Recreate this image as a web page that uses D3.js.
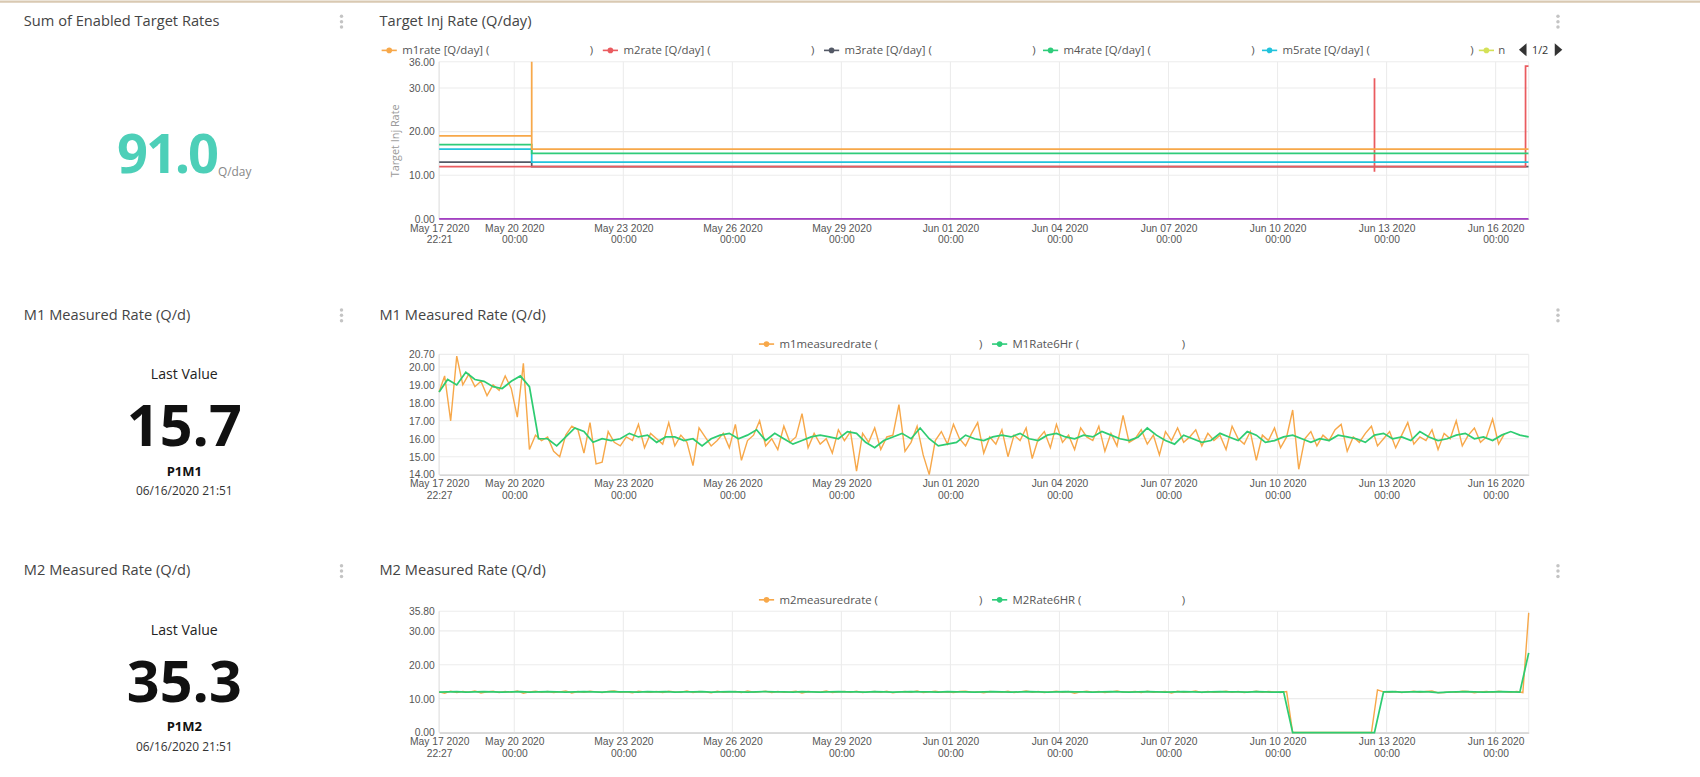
<!DOCTYPE html>
<html>
<head>
<meta charset="utf-8">
<script src="https://cdn.jsdelivr.net/npm/d3@7"></script>
<style>
  body { margin: 0; background: #fff; }
  svg { display: block; font-family: "Open Sans", "Noto Sans", sans-serif; }
  .tick text { fill: #555; font-size: 9.5px; }
</style>
</head>
<body>
<svg id="dash" width="1700" height="777" viewBox="0 0 1568 717" preserveAspectRatio="none"></svg>
<script>
const start = new Date(2020, 4, 17, 22, 21);
const end = new Date(2020, 5, 16, 21, 51);
const tickDates = ["2020-05-17T22:21", "2020-05-20T00:00", "2020-05-23T00:00", "2020-05-26T00:00",
  "2020-05-29T00:00", "2020-06-01T00:00", "2020-06-04T00:00", "2020-06-07T00:00",
  "2020-06-10T00:00", "2020-06-13T00:00", "2020-06-16T00:00"];

// Target rates, step series: [time, value]
const m1rate = [["2020-05-17T22:21", 19], ["2020-05-20T11:30", 36.5], ["2020-05-20T11:31", 16], ["2020-06-16T21:51", 16]];
const m2rate = [["2020-05-17T22:21", 12], ["2020-06-12T16:00", 11], ["2020-06-12T16:01", 32], ["2020-06-12T16:02", 12], ["2020-06-16T19:45", 12], ["2020-06-16T19:46", 35], ["2020-06-16T21:51", 35]];
const m3rate = [["2020-05-17T22:21", 13], ["2020-05-20T11:30", 12], ["2020-06-16T21:51", 12]];
const m4rate = [["2020-05-17T22:21", 17], ["2020-05-20T11:30", 15], ["2020-06-16T21:51", 15]];
const m5rate = [["2020-05-17T22:21", 16], ["2020-05-20T11:30", 13], ["2020-06-16T21:51", 13]];
const m6rate = [["2020-05-17T22:21", 0], ["2020-06-16T21:51", 0]];
const targetNames = ["m1rate [Q/day]", "m2rate [Q/day]", "m3rate [Q/day]", "m4rate [Q/day]", "m5rate [Q/day]", "m6rate [Q/day]"];
const targetColors = ["#f7a84a", "#ea5b5f", "#545966", "#2ecc7a", "#22c3dc", "#a43fc4"];
const targetTicks = [0, 10, 20, 30, 36];

// M1 measured rate, every 4h from May 17 22:00
const m1measured = [18.6, 19.5, 17.0, 20.6, 19.0, 19.6, 18.9, 19.2, 18.4, 19.0, 18.7, 19.5, 18.8, 17.2, 20.2,
  15.4, 16.2, 15.9, 16.1, 15.3, 15.0, 16.2, 16.7, 16.5, 15.2, 16.9, 14.6,
  14.7, 16.4, 15.8, 15.6, 16.1, 15.9, 16.8, 15.5, 16.3, 16.0, 15.7, 16.9,
  15.6, 16.2, 15.8, 14.5, 16.6, 16.1, 15.6, 15.9, 16.3, 15.5, 16.8, 14.8,
  15.9, 16.2, 17.0, 15.6, 16.0, 15.4, 16.7, 15.8, 16.1, 17.4, 15.5, 16.3,
  15.7, 16.0, 15.2, 16.5, 15.9, 16.4, 14.2, 16.3, 15.8, 16.6, 15.4, 16.1,
  16.2, 17.9, 15.3, 15.8, 16.7, 15.1, 14.0, 15.9, 16.4, 15.7, 16.8, 16.0,
  15.6, 16.3, 16.9, 15.2, 16.1, 15.7, 16.5, 15.0, 16.2, 15.9, 16.6, 14.9,
  16.0, 16.4, 15.5, 16.8, 15.8, 16.2, 15.4, 16.6, 16.1, 15.9, 16.7, 15.3,
  16.3, 15.6, 17.3, 15.8, 16.0, 16.5, 15.7, 16.2, 15.1, 16.4, 15.9, 16.6,
  15.8, 16.1, 16.5, 15.6, 16.3, 15.9, 16.2, 15.4, 16.7, 16.0, 15.7, 16.4,
  14.8, 16.2, 15.9, 16.6, 15.5, 16.1, 17.6, 14.3, 16.0, 16.4, 15.6, 16.2,
  15.9, 16.5, 16.8, 15.3, 16.1, 15.8, 16.3, 16.7, 15.6, 16.0, 16.4, 15.5,
  16.2, 16.9, 15.7, 16.1, 15.9, 16.5, 15.4, 16.3, 16.0, 17.0, 15.6, 16.2,
  16.6, 15.8, 16.1, 17.1, 15.7, 16.3];
const m1rate6hr = [18.6, 19.3, 19.0, 19.7, 19.3, 19.2, 18.9, 18.8, 19.2, 19.5, 18.9,
  16.0, 16.0, 15.6, 16.1, 16.6, 16.4, 15.8, 16.0, 15.9, 16.0, 16.3, 16.1, 16.2,
  15.8, 16.1, 16.1, 15.9, 16.0, 15.6, 16.0, 16.2, 16.3, 16.0, 16.2, 16.5,
  15.9, 16.3, 16.0, 15.7, 15.9, 16.1, 16.2, 16.1, 16.0, 16.4, 16.3, 15.8,
  15.5, 15.9, 16.1, 16.3, 16.0, 16.6, 16.0, 15.6, 15.7, 15.8, 16.2, 16.0,
  15.9, 16.1, 16.2, 16.1, 16.3, 16.0, 15.9, 16.2, 16.3, 16.1, 16.0, 16.2,
  16.1, 16.4, 16.2, 16.0, 15.9, 16.1, 16.6, 16.2, 15.9, 15.7, 16.2, 16.0,
  15.8, 15.9, 16.3, 16.1, 15.9, 16.4, 16.2, 15.8, 15.9, 16.1, 16.2, 16.0,
  15.8, 16.0, 15.9, 16.2, 16.1, 16.0, 15.8, 16.2, 16.3, 16.0, 16.1, 15.9,
  16.4, 16.1, 15.9, 16.0, 16.2, 16.3, 16.0, 16.1, 15.9, 16.2, 16.4, 16.2, 16.1];
const m1Ticks = [14, 15, 16, 17, 18, 19, 20, 20.7];

// M2 measured rate, every 4h from May 17 22:00
const m2measured = [12.0, 11.6, 12.2, 11.8, 12.1, 11.9, 12.3, 11.7, 12.0, 12.2, 11.8, 12.1,
  11.9, 12.3, 11.6, 12.0, 12.2, 11.9, 12.1, 11.8, 12.0, 12.3, 11.7, 12.1,
  11.9, 12.2, 12.0, 11.8, 12.1, 12.3, 11.9, 12.0, 11.7, 12.2, 12.0, 11.9,
  12.1, 11.8, 12.2, 12.0, 11.9, 12.3, 11.8, 12.1, 12.0, 11.7, 12.2, 11.9,
  12.0, 12.1, 11.8, 12.3, 11.9, 12.0, 12.2, 11.8, 12.1, 11.9, 12.0, 12.2,
  11.7, 12.1, 12.0, 11.9, 12.3, 11.8, 12.0, 12.1, 11.9, 12.2, 11.8, 12.0,
  12.1, 11.9, 12.2, 11.7, 12.0, 12.1, 11.9, 12.3, 11.8, 12.0, 12.2, 11.9,
  12.0, 11.8, 12.1, 12.2, 11.9, 12.0, 11.7, 12.1, 12.0, 11.9, 12.2, 11.8,
  12.0, 12.3, 11.9, 12.1, 11.8, 12.0, 12.2, 11.9, 12.1, 11.6, 12.0, 12.2,
  11.9, 12.1, 11.8, 12.0, 12.3, 11.9, 12.0, 12.1, 11.8, 12.2, 11.9, 12.0,
  12.1, 11.7, 12.2, 11.9, 12.0, 12.3, 11.8, 12.1, 11.9, 12.0, 12.2, 11.9,
  12.1, 11.8, 12.0, 12.2, 11.9, 12.1, 12.0, 11.8, 12.1,
  0, 0, 0, 0, 0, 0, 0, 0, 0, 0, 0, 0, 0, 0,
  12.6, 12.0, 11.9, 12.1, 11.8, 12.0, 12.2, 11.9, 12.1, 12.3, 11.7, 11.8,
  12.0, 11.9, 12.2, 12.1, 11.7, 12.0, 12.1, 11.9, 12.2, 12.0, 11.9, 12.1, 11.8,
  35.3];
const m2rate6hr = [11.9, 12.0, 12.1, 11.9, 12.0, 12.1, 12.0, 11.9, 12.0, 12.1, 11.9, 12.0,
  12.1, 12.0, 11.9, 12.0, 12.1, 12.0, 11.9, 12.1, 12.0, 12.0, 11.9, 12.1,
  12.0, 12.1, 11.9, 12.0, 12.0, 12.1, 11.9, 12.0, 12.1, 12.0, 11.9, 12.0,
  12.1, 12.0, 12.0, 11.9, 12.1, 12.0, 11.9, 12.0, 12.1, 12.0, 12.0, 11.9,
  12.1, 12.0, 11.9, 12.0, 12.1, 12.0, 12.0, 11.9, 12.1, 12.0, 12.0, 11.9,
  12.0, 12.1, 12.0, 11.9, 12.0, 12.1, 12.0, 11.9, 12.0, 12.1, 12.0, 12.0,
  11.9, 12.0, 12.1, 12.0, 11.9, 12.0, 12.1, 12.0, 11.9, 12.0, 12.1, 12.0,
  11.9, 12.0, 12.1, 12.0, 12.0, 11.9, 12.1, 12.0, 11.9, 12.0,
  0, 0, 0, 0, 0, 0, 0, 0, 0, 0,
  12.0, 12.1, 11.9, 12.0, 12.1, 12.0, 11.8, 11.9, 12.0, 12.1, 12.0, 11.9, 12.0, 12.1, 12.0, 11.9,
  23.5];
const m2Ticks = [0, 10, 20, 30, 35.8];

const svg = d3.select("#dash");
const L = 405, R = 1410;
const x = d3.scaleTime().domain([start, end]).range([L, R]);
const parse = s => new Date(s);

svg.append("line").attr("x1", 0).attr("x2", 1568).attr("y1", 1.5).attr("y2", 1.5)
  .attr("stroke", "#d9c9b2").attr("stroke-width", 2);

function dots(cx, cy) {
  [-5, 0, 5].forEach(d => svg.append("circle").attr("cx", cx).attr("cy", cy + d).attr("r", 1.6).attr("fill", "#c4c4c4"));
}
function title(tx, ty, t) {
  svg.append("text").attr("x", tx).attr("y", ty).attr("font-size", 13.5).attr("fill", "#444").text(t);
}

function chartFrame(top, bottom, ticks, fmt) {
  const y = d3.scaleLinear().domain([ticks[0], ticks[ticks.length - 1]]).range([bottom, top]);
  const g = svg.append("g");
  g.selectAll(".hg").data(ticks).join("line").attr("x1", L).attr("x2", R)
    .attr("y1", d => y(d)).attr("y2", d => y(d)).attr("stroke", "#ececec");
  g.selectAll(".vg").data(tickDates.slice(1)).join("line")
    .attr("x1", d => x(parse(d))).attr("x2", d => x(parse(d)))
    .attr("y1", top).attr("y2", bottom).attr("stroke", "#ececec");
  g.append("line").attr("x1", L).attr("x2", L).attr("y1", top).attr("y2", bottom).attr("stroke", "#ddd");
  g.append("line").attr("x1", R).attr("x2", R).attr("y1", top).attr("y2", bottom).attr("stroke", "#eee");
  const ya = g.append("g").attr("transform", `translate(${L},0)`)
    .call(d3.axisLeft(y).tickValues(ticks).tickFormat(d3.format(".2f")).tickSize(0).tickPadding(4));
  ya.select(".domain").remove();
  const xa = g.append("g").attr("transform", `translate(0,${bottom})`)
    .call(d3.axisBottom(x).tickValues(tickDates.map(parse)).tickSize(0).tickPadding(5).tickFormat(() => ""));
  xa.select(".domain").attr("stroke", "#ccc");
  xa.selectAll(".tick text").each(function (d, i) {
    const t = d3.select(this);
    t.append("tspan").attr("x", 0).attr("dy", "0.71em").text(d3.timeFormat("%b %d %Y")(d));
    t.append("tspan").attr("x", 0).attr("dy", "1.1em").text(i === 0 ? fmt : "00:00");
  });
  return y;
}

function marker(lx, ly, color) {
  svg.append("line").attr("x1", lx).attr("x2", lx + 14).attr("y1", ly - 3.5).attr("y2", ly - 3.5)
    .attr("stroke", color).attr("stroke-width", 1.5);
  svg.append("circle").attr("cx", lx + 7).attr("cy", ly - 3.5).attr("r", 2.6).attr("fill", color);
}
function legendItem(lx, ly, color, label, gap) {
  marker(lx, ly, color);
  svg.append("text").attr("x", lx + 19).attr("y", ly).attr("font-size", 10.5).attr("fill", "#555").text(label + " (");
  svg.append("text").attr("x", lx + gap).attr("y", ly).attr("font-size", 10.5).attr("fill", "#555").text(")");
}

// Panel 1: KPI
title(22, 24, "Sum of Enabled Target Rates"); dots(315, 20);
svg.append("text").attr("x", 200).attr("y", 160).attr("text-anchor", "end").attr("font-size", 50)
  .attr("font-weight", 700).attr("fill", "#4dcfb8").attr("letter-spacing", -2).text("91.0");
svg.append("text").attr("x", 201).attr("y", 162).attr("font-size", 11).attr("fill", "#888").text("Q/day");

// Chart 1
title(350, 24, "Target Inj Rate (Q/day)"); dots(1437, 20);
const y1 = chartFrame(57, 202, targetTicks, "22:21");
svg.append("text").attr("transform", "translate(368,130) rotate(-90)").attr("text-anchor", "middle")
  .attr("font-size", 10).attr("fill", "#999").text("Target Inj Rate");
const legX = [352, 556, 760, 962, 1164];
legX.forEach((lx, i) => legendItem(lx, 50, targetColors[i], targetNames[i], 192));
marker(1364, 50, "#d4e157");
svg.append("text").attr("x", 1382).attr("y", 50).attr("font-size", 10.5).attr("fill", "#555").text("n");
svg.append("path").attr("d", "M1408,40 L1401,46 L1408,52 Z").attr("fill", "#333");
svg.append("text").attr("x", 1413).attr("y", 50).attr("font-size", 10).attr("fill", "#333").text("1/2");
svg.append("path").attr("d", "M1434,40 L1441,46 L1434,52 Z").attr("fill", "#333");
svg.append("clipPath").attr("id", "c1").append("rect").attr("x", L).attr("y", 57).attr("width", R - L).attr("height", 146);
const stepLine = d3.line().x(d => x(parse(d[0]))).y(d => y1(Math.min(d[1], 36))).curve(d3.curveStepAfter);
const targetSeries = [m1rate, m2rate, m3rate, m4rate, m5rate, m6rate];
[5, 2, 1, 4, 3, 0].forEach(idx => {
  svg.append("path").datum(targetSeries[idx]).attr("d", stepLine).attr("fill", "none")
    .attr("stroke", targetColors[idx]).attr("stroke-width", 1.6).attr("clip-path", "url(#c1)");
});

// Last value panels
function lastValue(top, label, val, well) {
  title(22, top, label); dots(315, top - 4);
  svg.append("text").attr("x", 170).attr("y", top + 55).attr("text-anchor", "middle").attr("font-size", 13).attr("fill", "#222").text("Last Value");
  svg.append("text").attr("x", 170).attr("y", top + 117).attr("text-anchor", "middle").attr("font-size", 53)
    .attr("font-weight", 700).attr("fill", "#111").text(val);
  svg.append("text").attr("x", 170).attr("y", top + 144).attr("text-anchor", "middle").attr("font-size", 12)
    .attr("font-weight", 700).attr("fill", "#111").text(well);
  svg.append("text").attr("x", 170).attr("y", top + 162).attr("text-anchor", "middle").attr("font-size", 11).attr("fill", "#333").text("06/16/2020 21:51");
}

function seriesLine(y, vals, stepH, color, w) {
  const t0 = new Date(2020, 4, 17, 22, 0);
  const pts = vals.map((v, i) => [d3.timeHour.offset(t0, i * stepH), v]);
  svg.append("path").datum(pts)
    .attr("d", d3.line().x(d => x(Math.max(start, Math.min(end, d[0])))).y(d => y(d[1])))
    .attr("fill", "none").attr("stroke", color).attr("stroke-width", w);
}

// Row 2
lastValue(295, "M1 Measured Rate (Q/d)", "15.7", "P1M1");
title(350, 295, "M1 Measured Rate (Q/d)"); dots(1437, 291);
const y2 = chartFrame(327, 438, m1Ticks, "22:27");
legendItem(700, 321, "#f7a84a", "m1measuredrate", 203);
legendItem(915, 321, "#2ecc7a", "M1Rate6Hr", 175);
seriesLine(y2, m1measured, 4, "#f7a84a", 1.3);
seriesLine(y2, m1rate6hr, 6, "#2ecc71", 1.6);

// Row 3
lastValue(531, "M2 Measured Rate (Q/d)", "35.3", "P1M2");
title(350, 531, "M2 Measured Rate (Q/d)"); dots(1437, 527);
const y3 = chartFrame(564, 676, m2Ticks, "22:27");
legendItem(700, 557, "#f7a84a", "m2measuredrate", 203);
legendItem(915, 557, "#2ecc7a", "M2Rate6HR", 175);
seriesLine(y3, m2measured, 4, "#f7a84a", 1.3);
seriesLine(y3, m2rate6hr, 6, "#2ecc71", 1.6);
</script>
</body>
</html>
